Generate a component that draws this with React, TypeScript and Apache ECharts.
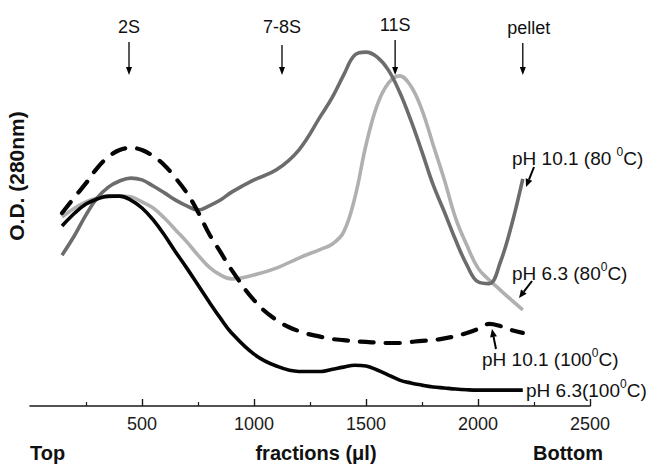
import React, { useEffect, useRef } from "react";
import * as echarts from "echarts";

// Fraction volume (µl) at which each O.D. reading is plotted
const fractions = [
  143, 200, 250, 300, 350, 400, 450, 500, 550, 600, 650, 700, 750, 800, 850, 900,
  1000, 1100, 1200, 1300, 1350, 1400, 1450, 1500, 1550, 1600, 1650, 1700, 1750,
  1800, 1850, 1900, 1950, 2000, 2050, 2100, 2150, 2200,
];

// pH 10.1, 80 °C
const ph101_80 = [
  0.419, 0.475, 0.531, 0.578, 0.608, 0.625, 0.633, 0.628, 0.611, 0.592, 0.572, 0.556, 0.544, 0.556, 0.572, 0.594,
  0.628, 0.656, 0.711, 0.808, 0.858, 0.919, 0.975, 0.983, 0.969, 0.933, 0.872, 0.794, 0.706,
  0.614, 0.539, 0.461, 0.392, 0.345, 0.34, 0.4, 0.503, 0.631,
];

// pH 6.3, 80 °C
const ph63_80 = [
  0.525, 0.55, 0.567, 0.578, 0.581, 0.583, 0.581, 0.567, 0.55, 0.522, 0.489, 0.456, 0.419, 0.386, 0.364, 0.353,
  0.364, 0.383, 0.411, 0.436, 0.45, 0.483, 0.578, 0.725, 0.836, 0.897, 0.917, 0.889, 0.822,
  0.725, 0.628, 0.522, 0.447, 0.383, 0.35, 0.322, 0.294, 0.267,
];

// pH 10.1, 100 °C
const ph101_100 = [
  0.536, 0.581, 0.619, 0.661, 0.692, 0.711, 0.717, 0.711, 0.694, 0.669, 0.633, 0.592, 0.539, 0.478, 0.428, 0.378,
  0.294, 0.239, 0.208, 0.192, 0.186, 0.183, 0.18, 0.178, 0.176, 0.175, 0.175, 0.178, 0.181,
  0.183, 0.188, 0.194, 0.203, 0.214, 0.228, 0.222, 0.211, 0.203,
];

// pH 6.3, 100 °C
const ph63_100 = [
  0.5, 0.536, 0.561, 0.575, 0.583, 0.583, 0.572, 0.55, 0.517, 0.475, 0.428, 0.383, 0.336, 0.289, 0.244, 0.203,
  0.144, 0.111, 0.096, 0.096, 0.102, 0.108, 0.113, 0.111, 0.1, 0.086, 0.072, 0.064, 0.058,
  0.053, 0.05, 0.047, 0.045, 0.044, 0.044, 0.044, 0.044, 0.044,
];

// Sedimentation markers along the gradient
const markerNames = ["2S", "7-8S", "11S", "pellet"];
const markerFractions = [442, 1125, 1630, 2200];

const xTicks = [500, 1000, 1500, 2000, 2500];

const FONT = "'Liberation Sans', Arial, Helvetica, sans-serif";

function pairs(ys: number[]) {
  return fractions.map((f, i) => [f, ys[i]]);
}

function arrow(x1: number, y1: number, x2: number, y2: number, head = 8, half = 3, lw = 1.4) {
  const a = Math.atan2(y2 - y1, x2 - x1);
  const c = Math.cos(a);
  const s = Math.sin(a);
  const bx = x2 - head * c;
  const by = y2 - head * s;
  const px = -s * half;
  const py = c * half;
  return [
    { type: "line", silent: true, shape: { x1, y1, x2: bx, y2: by }, style: { stroke: "#000", lineWidth: lw } },
    {
      type: "polygon",
      silent: true,
      shape: { points: [[x2, y2], [bx + px, by + py], [bx - px, by - py]] },
      style: { fill: "#000" },
    },
  ];
}

const richStyles = {
  n: { fontSize: 19, fontFamily: FONT, fill: "#111", verticalAlign: "bottom", lineHeight: 22 },
  s: { fontSize: 12, fontFamily: FONT, fill: "#111", verticalAlign: "top", lineHeight: 22 },
};

function curveLabel(x: number, y: number, text: string) {
  return {
    type: "text",
    silent: true,
    x,
    y,
    style: { text, rich: richStyles, textVerticalAlign: "middle", textAlign: "left" },
  };
}

export default function App() {
  const ref = useRef<HTMLDivElement>(null);

  useEffect(() => {
    if (!ref.current) return;
    const chart = echarts.init(ref.current, null, { renderer: "svg" });

    const base = {
      animation: false,
      backgroundColor: "#fff",
      grid: { left: 30, right: 60, top: 46, bottom: 60, containLabel: false },
      xAxis: {
        type: "value",
        min: 0,
        max: 2500,
        interval: 500,
        axisLine: { show: true, lineStyle: { color: "#1a1a1a", width: 1.6 } },
        axisTick: { show: true, inside: true, length: 7, customValues: xTicks, lineStyle: { color: "#1a1a1a", width: 1.4 } },
        minorTick: { show: true, splitNumber: 2, length: 4, lineStyle: { color: "#1a1a1a", width: 1.2 } },
        axisLabel: {
          show: true,
          customValues: xTicks,
          formatter: (v: number) => String(v),
          fontSize: 18,
          fontFamily: FONT,
          color: "#1a1a1a",
          margin: 9,
        },
        splitLine: { show: false },
        minorSplitLine: { show: false },
      },
      yAxis: {
        type: "value",
        min: 0,
        max: 1,
        show: false,
        splitLine: { show: false },
      },
      series: [
        {
          type: "line",
          name: "pH 6.3 (80°C)",
          data: pairs(ph63_80),
          smooth: 0.4,
          showSymbol: false,
          lineStyle: { color: "#b0b0b0", width: 3.6 },
          z: 2,
        },
        {
          type: "line",
          name: "pH 10.1 (80°C)",
          data: pairs(ph101_80),
          smooth: 0.4,
          showSymbol: false,
          lineStyle: { color: "#6c6c6c", width: 3.6 },
          z: 3,
        },
        {
          type: "line",
          name: "pH 6.3 (100°C)",
          data: pairs(ph63_100),
          smooth: 0.4,
          showSymbol: false,
          lineStyle: { color: "#050505", width: 3.6 },
          z: 4,
        },
        {
          type: "line",
          name: "pH 10.1 (100°C)",
          data: pairs(ph101_100),
          smooth: 0.4,
          showSymbol: false,
          lineStyle: { color: "#050505", width: 4.2, type: [14, 12], cap: "round" },
          z: 5,
        },
      ],
    };
    chart.setOption(base as any);

    const graphics: any[] = [];

    // Sedimentation markers with downward arrows
    const tops = [42, 45, 40, 43];
    const labelYs = [27, 27, 25, 28];
    const labelDx = [0, 0, 0, 6];
    markerNames.forEach((name, i) => {
      const x = chart.convertToPixel({ xAxisIndex: 0 }, markerFractions[i]) as number;
      graphics.push({
        type: "text",
        silent: true,
        x: x + labelDx[i],
        y: labelYs[i],
        style: { text: name, fontSize: 18, fontFamily: FONT, fill: "#111", textAlign: "center", textVerticalAlign: "middle" },
      });
      graphics.push(...arrow(x, tops[i], x, 75, 8, 3, 1.3));
    });

    // Curve labels
    graphics.push(curveLabel(512, 157, "{n|pH 10.1 (80 }{s|0}{n|C)}"));
    graphics.push(...arrow(534, 167, 526, 187, 8, 3.5, 2));
    graphics.push(curveLabel(512, 272, "{n|pH 6.3 (80}{s|0}{n|C)}"));
    graphics.push(...arrow(532, 281, 519, 298, 8, 3.5, 2));
    graphics.push(curveLabel(482, 358, "{n|pH 10.1 (100}{s|0}{n|C)}"));
    graphics.push(...arrow(496, 349, 492, 329, 8, 3.5, 2));
    graphics.push(curveLabel(526, 389, "{n|pH 6.3(100}{s|0}{n|C)}"));

    // Axis titles
    const bold = { fontWeight: "bold", fontFamily: FONT, fill: "#111", textVerticalAlign: "middle" };
    graphics.push({
      type: "text",
      silent: true,
      x: 16,
      y: 176,
      rotation: Math.PI / 2,
      style: { text: "O.D. (280nm)", fontSize: 21, textAlign: "center", ...bold },
    });
    graphics.push({
      type: "text",
      silent: true,
      x: 30,
      y: 453,
      style: { text: "Top", fontSize: 20, textAlign: "left", ...bold },
    });
    graphics.push({
      type: "text",
      silent: true,
      x: 316,
      y: 453,
      style: { text: "fractions (μl)", fontSize: 20, textAlign: "center", ...bold },
    });
    graphics.push({
      type: "text",
      silent: true,
      x: 568,
      y: 453,
      style: { text: "Bottom", fontSize: 20, textAlign: "center", ...bold },
    });

    chart.setOption({ graphic: graphics });

    return () => chart.dispose();
  }, []);

  return (
    <div
      ref={ref}
      style={{ position: "fixed", left: 0, top: 0, width: 650, height: 466, background: "#fff" }}
    />
  );
}
